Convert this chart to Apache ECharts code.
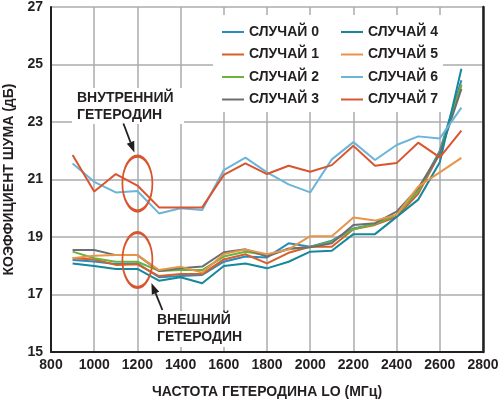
<!DOCTYPE html>
<html>
<head>
<meta charset="utf-8">
<script src="https://cdn.jsdelivr.net/npm/echarts@6/dist/echarts.min.js"></script>
<style>
html,body{margin:0;padding:0;background:#fff}
#chart{width:500px;height:399px}
</style>
</head>
<body>
<div id="chart"></div>
<script>
var freqs = [900,1000,1100,1200,1300,1400,1500,1600,1700,1800,1900,2000,2100,2200,2300,2400,2500,2600,2700]

var case0 = [18.20,18.15,18.06,18.08,17.60,17.64,17.68,18.14,18.32,18.29,18.78,18.66,18.87,19.30,19.45,19.77,20.60,22.00,24.45]
var case1 = [18.26,18.22,18.03,18.05,17.64,17.71,17.71,18.22,18.40,18.08,18.45,18.66,18.66,19.27,19.42,19.70,20.50,21.90,24.30]
var case2 = [18.49,18.26,18.14,18.14,17.82,17.85,17.85,18.32,18.49,18.37,18.57,18.66,18.84,19.27,19.45,19.77,20.60,21.95,24.30]
var case3 = [18.55,18.55,18.37,18.37,17.82,17.91,17.97,18.47,18.57,18.32,18.60,18.64,18.78,19.42,19.48,19.88,20.70,21.90,24.15]
var case4 = [18.08,17.99,17.89,17.89,17.48,17.60,17.39,17.99,18.08,17.91,18.14,18.49,18.52,19.10,19.10,19.70,20.30,21.60,24.85]
var case5 = [18.26,18.35,18.37,18.37,17.85,17.97,17.76,18.41,18.57,18.40,18.57,19.03,19.03,19.68,19.57,19.77,20.75,21.25,21.75]
var case6 = [21.56,20.92,20.55,20.60,19.82,20.00,19.94,21.33,21.76,21.25,20.83,20.55,21.70,22.30,21.68,22.20,22.50,22.43,23.50]
var case7 = [21.85,20.58,21.19,20.79,20.03,20.03,20.03,21.16,21.56,21.19,21.48,21.27,21.50,22.17,21.48,21.57,22.28,21.77,22.70]

var names = ['СЛУЧАЙ 0','СЛУЧАЙ 1','СЛУЧАЙ 2','СЛУЧАЙ 3','СЛУЧАЙ 4','СЛУЧАЙ 5','СЛУЧАЙ 6','СЛУЧАЙ 7']
var colors = ['#2B8BBF','#D5602C','#6BB33E','#6D6E71','#17879C','#E8954A','#6CB4D8','#D9552E']
var values = [case0,case1,case2,case3,case4,case5,case6,case7]

// where the two groups of curves get circled
var internalLO = [1200, 20.86]
var externalLO = [1200, 18.2]

var font = '"Liberation Sans", Arial, sans-serif'
var ink = '#231F20'

function makeSerie(i){
    return {
        name: names[i],
        type: 'line',
        symbol: 'none',
        color: colors[i],
        lineStyle: {width: 2, color: colors[i]},
        data: freqs.map(function(f, k){ return [f, values[i][k]] })
    }
}

function makeLegend(left, list){
    return {
        orient: 'vertical',
        left: left,
        top: 25,
        padding: 0,
        itemWidth: 22,
        itemHeight: 14,
        itemGap: 8.5,
        z: 5,
        itemStyle: {opacity: 0},
        lineStyle: {width: 2},
        data: list,
        textStyle: {fontFamily: font, fontWeight: 'bold', fontSize: 14, color: ink, lineHeight: 14}
    }
}

var bold = {fontFamily: font, fontWeight: 'bold', fontSize: 14, color: ink}

var chart = echarts.init(document.getElementById('chart'))

var option = {
    animation: false,
    backgroundColor: '#fff',
    grid: {left: 51, right: 17, top: 7, bottom: 47, outerBoundsMode: 'none', containLabel: false},
    legend: [makeLegend(221, names.slice(0,4)), makeLegend(340, names.slice(4))],
    xAxis: {
        type: 'value', min: 800, max: 2800, interval: 200,
        name: 'ЧАСТОТА ГЕТЕРОДИНА LO (МГц)',
        nameLocation: 'middle', nameGap: 33,
        nameTextStyle: bold,
        axisLine: {lineStyle: {color: ink, width: 2}},
        axisTick: {show: false},
        axisLabel: Object.assign({margin: 6, formatter: function(v){ return String(v) }}, bold),
        splitLine: {lineStyle: {color: '#A9ABAE', width: 1.5}}
    },
    yAxis: [{
        type: 'value', min: 15, max: 27, interval: 2,
        name: 'КОЭФФИЦИЕНТ ШУМА (дБ)',
        nameLocation: 'middle', nameGap: 34,
        nameTextStyle: bold,
        axisLine: {show: true, lineStyle: {color: ink, width: 2}},
        axisTick: {show: false},
        axisLabel: Object.assign({margin: 8}, bold),
        splitLine: {lineStyle: {color: '#A9ABAE', width: 1.5}}
    }, {
        type: 'value', min: 15, max: 27, interval: 2, position: 'right',
        axisLine: {show: true, lineStyle: {color: ink, width: 2.5}},
        axisTick: {show: false}, axisLabel: {show: false}, splitLine: {show: false}
    }],
    series: names.map(function(n, i){ return makeSerie(i) })
}
chart.setOption(option)

// annotations placed from data coordinates
function arrow(tail, tip){
    var dx = tip[0]-tail[0], dy = tip[1]-tail[1]
    var len = Math.sqrt(dx*dx+dy*dy), ux = dx/len, uy = dy/len
    var hl = 11, hw = 4
    var bx = tip[0]-ux*hl, by = tip[1]-uy*hl
    return [
        {type: 'line', z: 10, shape: {x1: tail[0], y1: tail[1], x2: bx, y2: by}, style: {stroke: ink, lineWidth: 1.8}},
        {type: 'polygon', z: 10, shape: {points: [tip, [bx-uy*hw, by+ux*hw], [bx+uy*hw, by-ux*hw]]}, style: {fill: ink}}
    ]
}

var pIn = chart.convertToPixel({xAxisIndex: 0, yAxisIndex: 0}, internalLO)
var pEx = chart.convertToPixel({xAxisIndex: 0, yAxisIndex: 0}, externalLO)
var labelStyle = {fontFamily: font, fontWeight: 'bold', fontSize: 14, fill: ink, lineHeight: 17}

var graphics = [
    {type: 'rect', z: 1, shape: {x: 213, y: 15, width: 230, height: 97}, style: {fill: '#fff'}},
    {type: 'rect', z: 1, shape: {x: 72, y: 88, width: 112, height: 36}, style: {fill: '#fff'}},
    {type: 'rect', z: 1, shape: {x: 152, y: 311, width: 88, height: 36}, style: {fill: '#fff'}},
    {type: 'text', z: 10, x: 77, y: 90, style: Object.assign({text: 'ВНУТРЕННИЙ\nГЕТЕРОДИН'}, labelStyle)},
    {type: 'text', z: 10, x: 157, y: 312, style: Object.assign({text: 'ВНЕШНИЙ\nГЕТЕРОДИН'}, labelStyle)},
    {type: 'circle', z: 10, x: pIn[0], y: pIn[1], scaleX: 15/27.5, shape: {cx: 0, cy: 0, r: 27.5},
        style: {fill: 'none', stroke: '#D9552E', lineWidth: 3.2}},
    {type: 'circle', z: 10, x: pEx[0], y: pEx[1], scaleX: 15/27.5, shape: {cx: 0, cy: 0, r: 27.5},
        style: {fill: 'none', stroke: '#D9552E', lineWidth: 3.2}}
]
graphics = graphics.concat(arrow([pIn[0]-14, pIn[1]-60], [pIn[0]-3, pIn[1]-31]))
graphics = graphics.concat(arrow([pEx[0]+25, pEx[1]+50], [pEx[0]+14, pEx[1]+23]))

chart.setOption({graphic: graphics})
</script>
</body>
</html>
